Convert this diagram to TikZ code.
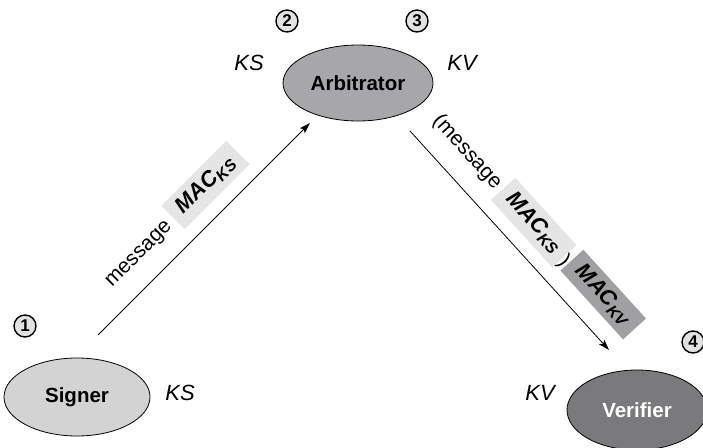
\documentclass[tikz,border=0pt]{standalone}
\usepackage{fontspec}
\setmainfont{Liberation Sans}
\usetikzlibrary{shapes.geometric,arrows.meta,calc}

\definecolor{signerfill}{RGB}{211,211,211}
\definecolor{arbfill}{RGB}{167,167,169}
\definecolor{verfill}{RGB}{122,122,124}
\definecolor{boxlight}{RGB}{229,229,229}
\definecolor{boxdark}{RGB}{160,160,162}
\definecolor{numfill}{RGB}{226,226,226}

\newcommand{\macsub}[1]{\textbf{\textit{\fontsize{22}{24}\selectfont MAC\raisebox{-4pt}{\fontsize{16}{16}\selectfont #1}}}}

\begin{document}
\begin{tikzpicture}[x=1pt,y=1pt,
  font=\fontsize{21}{24}\selectfont,
  party/.style={ellipse,draw,line width=0.8pt,minimum width=146pt,minimum height=78pt,
                inner sep=0pt,font=\bfseries\fontsize{20.5}{24}\selectfont},
  keylbl/.style={font=\itshape\fontsize{22}{24}\selectfont,inner sep=0pt},
  stepnum/.style={circle,draw,line width=1.4pt,fill=numfill,minimum size=22pt,inner sep=0pt,
                  font=\bfseries\fontsize{17}{17}\selectfont},
  msgline/.style={line width=0.8pt,-{Stealth[length=11pt,width=7pt,inset=2.5pt]}},
  plain/.style={inner sep=0pt},
  macbox/.style={inner sep=0pt,minimum height=33pt}
]
\useasboundingbox (0,0) rectangle (703,-447);

% parties
\node[party,fill=signerfill] (sig) at (77,-397) {Signer};
\node[party,fill=arbfill,minimum width=150pt,minimum height=76pt] (arb) at (358,-83) {Arbitrator};
\node[party,fill=verfill,text=white,minimum width=140pt,minimum height=80pt] (ver) at (637,-410) {Verifier};

% keys held by each party
\node[keylbl] (ksS) at (180,-393) {KS};
\node[keylbl] (ksA) at (249,-63) {KS};
\node[keylbl] (kvA) at (462,-63) {KV};
\node[keylbl] (kvV) at (540,-393) {KV};

% step numbers
\node[stepnum] (n1) at (25,-326) {1};
\node[stepnum] (n2) at (287,-21) {2};
\node[stepnum] (n3) at (417,-21) {3};
\node[stepnum] (n4) at (693,-342) {4};

% message flow
\coordinate (m1s) at (98,-335);
\coordinate (m1e) at (310,-123);
\coordinate (m2s) at (410,-131);
\coordinate (m2e) at (609,-350);
\draw[msgline] (m1s) -- (m1e);
\draw[msgline] (m2s) -- (m2e);

% signer -> arbitrator label
\node[plain,rotate=45] (l1a) at ($(m1s)!86pt!(m1e)!27pt!90:(m1e)$) {message};
\node[macbox,fill=boxlight,minimum width=92pt,rotate=45] (l1b)
  at ($(m1s)!182pt!(m1e)!30pt!90:(m1e)$) {\macsub{KS}};

% arbitrator -> verifier label
\node[plain,rotate=-47.7] (l2a) at ($(m2s)!54pt!(m2e)!28pt!90:(m2e)$) {(message};
\node[macbox,fill=boxlight,minimum width=91pt,rotate=-47.7] (l2b)
  at ($(m2s)!151pt!(m2e)!30pt!90:(m2e)$) {\macsub{KS}};
\node[plain,rotate=-47.7] (l2c) at ($(m2s)!200pt!(m2e)!26pt!90:(m2e)$) {)};
\node[macbox,fill=boxdark,minimum width=93pt,minimum height=31pt,rotate=-47.7] (l2d)
  at ($(m2s)!251pt!(m2e)!33pt!90:(m2e)$) {\macsub{KV}};
\end{tikzpicture}
\end{document}
